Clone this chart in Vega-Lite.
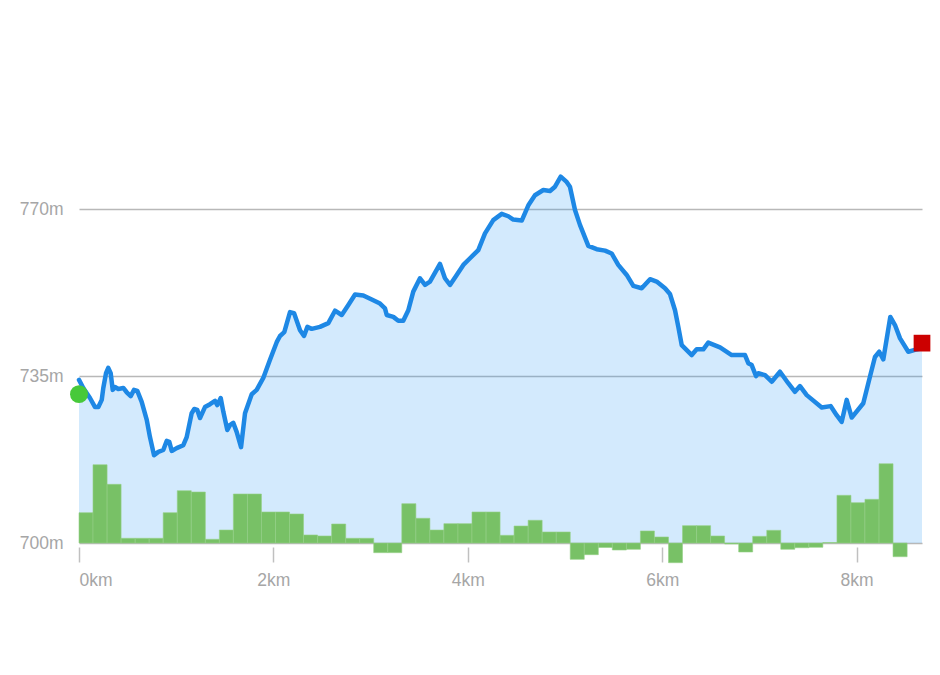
{
  "$schema": "https://vega.github.io/schema/vega-lite/v6.json",
  "autosize": {"type": "none"},
  "width": 843,
  "height": 477,
  "padding": {"left": 79, "top": 66, "right": 18, "bottom": 132},
  "background": "white",
  "config": {"view": {"stroke": null}, "font": "Liberation Sans"},
  "datasets": {
    "profile": [
      {"km": 0, "elev": 734.2}, {"km": 0.044, "elev": 732.5}, {"km": 0.113, "elev": 730.4}, {"km": 0.165, "elev": 728.5},
      {"km": 0.199, "elev": 728.5}, {"km": 0.234, "elev": 730.0}, {"km": 0.25, "elev": 732.5}, {"km": 0.278, "elev": 735.6},
      {"km": 0.301, "elev": 736.7}, {"km": 0.326, "elev": 735.6}, {"km": 0.347, "elev": 732.1}, {"km": 0.37, "elev": 732.7},
      {"km": 0.404, "elev": 732.3}, {"km": 0.456, "elev": 732.5}, {"km": 0.491, "elev": 731.6}, {"km": 0.532, "elev": 730.8},
      {"km": 0.566, "elev": 732.1}, {"km": 0.6, "elev": 731.9}, {"km": 0.645, "elev": 729.6}, {"km": 0.697, "elev": 725.8},
      {"km": 0.73, "elev": 722.2}, {"km": 0.772, "elev": 718.4}, {"km": 0.816, "elev": 719.1}, {"km": 0.867, "elev": 719.5},
      {"km": 0.902, "elev": 721.4}, {"km": 0.929, "elev": 721.2}, {"km": 0.954, "elev": 719.3}, {"km": 1.005, "elev": 719.9},
      {"km": 1.073, "elev": 720.5}, {"km": 1.108, "elev": 722.2}, {"km": 1.159, "elev": 727.2}, {"km": 1.186, "elev": 728.1},
      {"km": 1.217, "elev": 727.9}, {"km": 1.245, "elev": 726.2}, {"km": 1.296, "elev": 728.5}, {"km": 1.348, "elev": 729.1},
      {"km": 1.399, "elev": 729.8}, {"km": 1.423, "elev": 728.9}, {"km": 1.458, "elev": 730.4}, {"km": 1.485, "elev": 727.5},
      {"km": 1.526, "elev": 723.7}, {"km": 1.553, "elev": 724.7}, {"km": 1.587, "elev": 725.2}, {"km": 1.622, "elev": 723.3},
      {"km": 1.667, "elev": 720.1}, {"km": 1.708, "elev": 727.2}, {"km": 1.777, "elev": 731.2}, {"km": 1.828, "elev": 732.1},
      {"km": 1.896, "elev": 734.6}, {"km": 1.965, "elev": 738.4}, {"km": 2.034, "elev": 742.1}, {"km": 2.068, "elev": 743.4},
      {"km": 2.112, "elev": 744.2}, {"km": 2.171, "elev": 748.4}, {"km": 2.212, "elev": 748.2}, {"km": 2.274, "elev": 744.6},
      {"km": 2.315, "elev": 743.4}, {"km": 2.349, "elev": 745.3}, {"km": 2.394, "elev": 744.9}, {"km": 2.479, "elev": 745.3},
      {"km": 2.565, "elev": 746.1}, {"km": 2.634, "elev": 748.7}, {"km": 2.703, "elev": 747.8}, {"km": 2.771, "elev": 749.9},
      {"km": 2.84, "elev": 752.1}, {"km": 2.925, "elev": 751.9}, {"km": 3.028, "elev": 750.9}, {"km": 3.097, "elev": 750.2},
      {"km": 3.148, "elev": 749.2}, {"km": 3.166, "elev": 747.8}, {"km": 3.234, "elev": 747.4}, {"km": 3.285, "elev": 746.6},
      {"km": 3.336, "elev": 746.6}, {"km": 3.388, "elev": 748.8}, {"km": 3.439, "elev": 752.7}, {"km": 3.508, "elev": 755.5},
      {"km": 3.56, "elev": 754.1}, {"km": 3.611, "elev": 754.8}, {"km": 3.714, "elev": 758.5}, {"km": 3.765, "elev": 755.5},
      {"km": 3.817, "elev": 754.1}, {"km": 3.886, "elev": 756.2}, {"km": 3.954, "elev": 758.3}, {"km": 4.023, "elev": 759.7},
      {"km": 4.108, "elev": 761.4}, {"km": 4.177, "elev": 764.9}, {"km": 4.262, "elev": 767.7}, {"km": 4.349, "elev": 769.0},
      {"km": 4.417, "elev": 768.5}, {"km": 4.468, "elev": 767.8}, {"km": 4.555, "elev": 767.6}, {"km": 4.623, "elev": 770.8},
      {"km": 4.691, "elev": 772.9}, {"km": 4.777, "elev": 774.0}, {"km": 4.846, "elev": 773.8}, {"km": 4.897, "elev": 774.7},
      {"km": 4.956, "elev": 776.8}, {"km": 5.017, "elev": 775.7}, {"km": 5.051, "elev": 774.7}, {"km": 5.103, "elev": 769.8},
      {"km": 5.154, "elev": 766.7}, {"km": 5.24, "elev": 762.3}, {"km": 5.326, "elev": 761.6}, {"km": 5.412, "elev": 761.3},
      {"km": 5.48, "elev": 760.7}, {"km": 5.548, "elev": 758.3}, {"km": 5.635, "elev": 756.2}, {"km": 5.703, "elev": 753.9},
      {"km": 5.789, "elev": 753.4}, {"km": 5.875, "elev": 755.3}, {"km": 5.943, "elev": 754.8}, {"km": 6.029, "elev": 753.4},
      {"km": 6.08, "elev": 752.2}, {"km": 6.132, "elev": 748.8}, {"km": 6.166, "elev": 745.3}, {"km": 6.201, "elev": 741.5},
      {"km": 6.304, "elev": 739.4}, {"km": 6.355, "elev": 740.6}, {"km": 6.423, "elev": 740.6}, {"km": 6.474, "elev": 742.0},
      {"km": 6.595, "elev": 741.0}, {"km": 6.715, "elev": 739.4}, {"km": 6.852, "elev": 739.4}, {"km": 6.886, "elev": 737.7},
      {"km": 6.921, "elev": 737.3}, {"km": 6.965, "elev": 735.0}, {"km": 6.989, "elev": 735.6}, {"km": 7.058, "elev": 735.2},
      {"km": 7.127, "elev": 733.8}, {"km": 7.212, "elev": 735.9}, {"km": 7.297, "elev": 733.5}, {"km": 7.366, "elev": 731.7},
      {"km": 7.418, "elev": 732.9}, {"km": 7.487, "elev": 731.0}, {"km": 7.641, "elev": 728.4}, {"km": 7.733, "elev": 728.7},
      {"km": 7.795, "elev": 726.8}, {"km": 7.847, "elev": 725.4}, {"km": 7.898, "elev": 730.0}, {"km": 7.95, "elev": 726.3},
      {"km": 8.069, "elev": 729.3}, {"km": 8.138, "elev": 734.9}, {"km": 8.189, "elev": 739.0}, {"km": 8.233, "elev": 740.1},
      {"km": 8.275, "elev": 738.5}, {"km": 8.347, "elev": 747.4}, {"km": 8.395, "elev": 745.7}, {"km": 8.447, "elev": 742.9},
      {"km": 8.532, "elev": 740.1}, {"km": 8.601, "elev": 740.5}, {"km": 8.673, "elev": 740.8}
    ],
    "bars": [
      {"km": 0, "km_end": 0.144, "elev": 706.35}, {"km": 0.144, "km_end": 0.289, "elev": 716.41},
      {"km": 0.289, "km_end": 0.433, "elev": 712.3}, {"km": 0.433, "km_end": 0.578, "elev": 700.99},
      {"km": 0.578, "km_end": 0.722, "elev": 700.99}, {"km": 0.722, "km_end": 0.866, "elev": 700.99},
      {"km": 0.866, "km_end": 1.011, "elev": 706.35}, {"km": 1.011, "km_end": 1.155, "elev": 710.96},
      {"km": 1.155, "km_end": 1.3, "elev": 710.69}, {"km": 1.3, "km_end": 1.444, "elev": 700.78},
      {"km": 1.444, "km_end": 1.588, "elev": 702.72}, {"km": 1.588, "km_end": 1.733, "elev": 710.27},
      {"km": 1.733, "km_end": 1.877, "elev": 710.27}, {"km": 1.877, "km_end": 2.022, "elev": 706.5},
      {"km": 2.022, "km_end": 2.166, "elev": 706.5}, {"km": 2.166, "km_end": 2.31, "elev": 706.08},
      {"km": 2.31, "km_end": 2.455, "elev": 701.68}, {"km": 2.455, "km_end": 2.599, "elev": 701.47},
      {"km": 2.599, "km_end": 2.744, "elev": 703.98}, {"km": 2.744, "km_end": 2.888, "elev": 700.99},
      {"km": 2.888, "km_end": 3.032, "elev": 700.99}, {"km": 3.032, "km_end": 3.177, "elev": 697.97},
      {"km": 3.177, "km_end": 3.321, "elev": 697.97}, {"km": 3.321, "km_end": 3.466, "elev": 708.24},
      {"km": 3.466, "km_end": 3.61, "elev": 705.18}, {"km": 3.61, "km_end": 3.754, "elev": 702.72},
      {"km": 3.754, "km_end": 3.899, "elev": 704.05}, {"km": 3.899, "km_end": 4.043, "elev": 704.05},
      {"km": 4.043, "km_end": 4.188, "elev": 706.5}, {"km": 4.188, "km_end": 4.332, "elev": 706.5},
      {"km": 4.332, "km_end": 4.476, "elev": 701.61}, {"km": 4.476, "km_end": 4.621, "elev": 703.56},
      {"km": 4.621, "km_end": 4.765, "elev": 704.76}, {"km": 4.765, "km_end": 4.91, "elev": 702.31},
      {"km": 4.91, "km_end": 5.054, "elev": 702.31}, {"km": 5.054, "km_end": 5.198, "elev": 696.58},
      {"km": 5.198, "km_end": 5.343, "elev": 697.55}, {"km": 5.343, "km_end": 5.487, "elev": 699.06},
      {"km": 5.487, "km_end": 5.632, "elev": 698.53}, {"km": 5.632, "km_end": 5.776, "elev": 698.68},
      {"km": 5.776, "km_end": 5.92, "elev": 702.52}, {"km": 5.92, "km_end": 6.065, "elev": 701.26},
      {"km": 6.065, "km_end": 6.209, "elev": 695.87}, {"km": 6.209, "km_end": 6.354, "elev": 703.63},
      {"km": 6.354, "km_end": 6.498, "elev": 703.63}, {"km": 6.498, "km_end": 6.642, "elev": 701.47},
      {"km": 6.642, "km_end": 6.787, "elev": 699.79}, {"km": 6.787, "km_end": 6.931, "elev": 698.11},
      {"km": 6.931, "km_end": 7.076, "elev": 701.4}, {"km": 7.076, "km_end": 7.22, "elev": 702.66},
      {"km": 7.22, "km_end": 7.364, "elev": 698.68}, {"km": 7.364, "km_end": 7.509, "elev": 699.01},
      {"km": 7.509, "km_end": 7.653, "elev": 699.1}, {"km": 7.653, "km_end": 7.798, "elev": 700.1},
      {"km": 7.798, "km_end": 7.942, "elev": 710.0}, {"km": 7.942, "km_end": 8.086, "elev": 708.45},
      {"km": 8.086, "km_end": 8.231, "elev": 709.16}, {"km": 8.231, "km_end": 8.375, "elev": 716.62},
      {"km": 8.375, "km_end": 8.52, "elev": 697.13}
    ],
    "markers": [
      {"km": 0, "elev": 731.2, "kind": "start"},
      {"km": 8.673, "elev": 741.9, "kind": "end"}
    ]
  },
  "encoding": {
    "x": {
      "field": "km", "type": "quantitative",
      "scale": {"domain": [0, 8.673], "nice": false, "zero": false},
      "axis": {
        "title": null, "values": [0, 2, 4, 6, 8], "labelExpr": "datum.value + 'km'",
        "grid": false, "domain": false, "offset": 4, "tickSize": 15, "tickColor": "#c0c0c0", "tickWidth": 1.5,
        "labelPadding": 9, "labelFontSize": 17.5, "labelColor": "#a6a6a6", "labelFlush": true, "labelFont": "Liberation Sans"
      }
    },
    "y": {
      "field": "elev", "type": "quantitative",
      "scale": {"domain": [700, 800], "nice": false, "zero": false},
      "axis": {
        "title": null, "values": [700, 735, 770], "labelExpr": "datum.value + 'm'",
        "grid": true, "gridColor": "#b8b8b8", "gridWidth": 1.5, "domain": false, "ticks": false,
        "labelPadding": 16, "labelFontSize": 17.5, "labelColor": "#a6a6a6", "labelFont": "Liberation Sans"
      }
    }
  },
  "layer": [
    {
      "data": {"name": "profile"},
      "mark": {"type": "area", "color": "#2196f3", "fillOpacity": 0.2},
      "encoding": {"y2": {"datum": 700}}
    },
    {
      "data": {"name": "bars"},
      "mark": {"type": "rect", "color": "#78c166", "stroke": "#96d087", "strokeWidth": 0.6},
      "encoding": {"x2": {"field": "km_end"}, "y2": {"datum": 700}}
    },
    {
      "data": {"name": "profile"},
      "mark": {"type": "line", "color": "#1e88e5", "strokeWidth": 4.5, "strokeJoin": "round", "strokeCap": "round"},
      "encoding": {}
    },
    {
      "data": {"name": "markers"},
      "mark": {"type": "point", "filled": true, "opacity": 1},
      "encoding": {
        "shape": {"field": "kind", "type": "nominal", "scale": {"domain": ["start", "end"], "range": ["circle", "square"]}, "legend": null},
        "color": {"field": "kind", "type": "nominal", "scale": {"domain": ["start", "end"], "range": ["#47c93a", "#cc0000"]}, "legend": null},
        "size": {"field": "kind", "type": "nominal", "scale": {"domain": ["start", "end"], "range": [320, 280]}, "legend": null}
      }
    }
  ]
}
